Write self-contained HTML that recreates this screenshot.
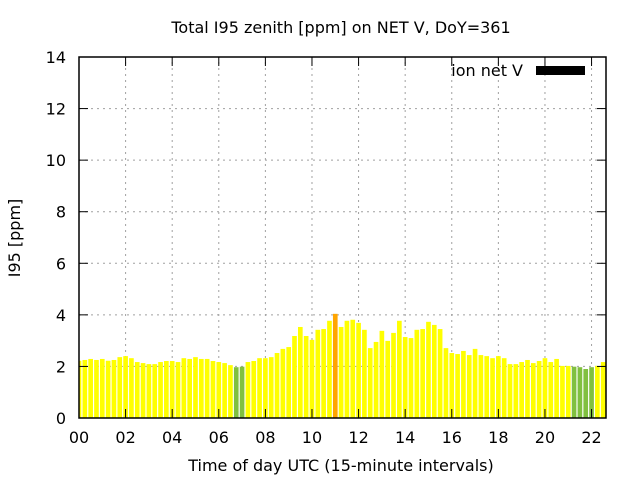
<!DOCTYPE html>
<html><head><meta charset="utf-8"><style>
body{margin:0;background:#fff}
svg{display:block;font-family:"DejaVu Sans","Liberation Sans",sans-serif}
</style></head><body>
<svg id="chart" width="640" height="480" viewBox="0 0 640 480">
<rect width="640" height="480" fill="#fff"/>
<text x="341" y="33" font-size="16" text-anchor="middle">Total I95 zenith [ppm] on NET V, DoY=361</text>
<text transform="translate(20,238) rotate(-90)" font-size="16" text-anchor="middle">I95 [ppm]</text>
<text x="341" y="471" font-size="16" text-anchor="middle">Time of day UTC (15-minute intervals)</text>
<g id="grid"></g>
<defs><clipPath id="plotclip"><rect x="79" y="57" width="527" height="361"/></clipPath></defs>
<g id="bars" clip-path="url(#plotclip)"></g>
<g id="axes"></g>
<text x="523" y="76" font-size="16" text-anchor="end">ion net V</text>
<rect x="536" y="66" width="49" height="9" fill="#000"/>
</svg>
<script>
const values = [2.22,2.25,2.29,2.25,2.29,2.22,2.25,2.36,2.40,2.32,2.17,2.13,2.09,2.09,2.17,2.21,2.21,2.17,2.32,2.29,2.36,2.29,2.29,2.21,2.17,2.13,2.05,1.97,1.99,2.17,2.21,2.32,2.32,2.36,2.52,2.68,2.75,3.18,3.53,3.18,3.03,3.42,3.45,3.77,4.04,3.53,3.77,3.81,3.69,3.42,2.71,2.95,3.38,2.99,3.30,3.77,3.14,3.10,3.42,3.45,3.73,3.61,3.45,2.71,2.52,2.48,2.60,2.44,2.68,2.44,2.40,2.32,2.40,2.32,2.09,2.09,2.17,2.25,2.13,2.21,2.32,2.17,2.29,2.02,2.02,1.99,1.97,1.90,1.97,2.02,2.17,2.02];
const yTicks = [0,2,4,6,8,10,12,14];
const xTicks = [0,2,4,6,8,10,12,14,16,18,20,22];
const xTickLabels = ["00","02","04","06","08","10","12","14","16","18","20","22"];
const X0=79,X1=606,Y0=418,Y1=57,TMAX=22.62,VMAX=14;
const xs=t=>X0+(t/TMAX)*(X1-X0);
const ys=v=>Y0-(v/VMAX)*(Y0-Y1);
const NS="http://www.w3.org/2000/svg";
function mk(tag,attrs,parent){const e=document.createElementNS(NS,tag);for(const k in attrs)e.setAttribute(k,attrs[k]);parent.appendChild(e);return e;}
const grid=document.getElementById('grid'),bars=document.getElementById('bars'),axes=document.getElementById('axes');
yTicks.forEach(v=>{
  if(v>0&&v<14){const l=mk('line',{x1:X0,x2:X1,y1:ys(v),y2:ys(v),stroke:'#a0a0a0','stroke-dasharray':'2,4'},grid);
  
  }
  mk('line',{x1:X0,x2:X0+9,y1:ys(v),y2:ys(v),stroke:'#000'},axes);
  mk('line',{x1:X1,x2:X1-9,y1:ys(v),y2:ys(v),stroke:'#000'},axes);
  const t=mk('text',{x:X0-13,y:ys(v)+6,'font-size':'16','text-anchor':'end'},axes);t.textContent=v;
  
  
});
xTicks.forEach((h,i)=>{
  const x=xs(h);
  if(h>0){const l=mk('line',{x1:x,x2:x,y1:Y0,y2:Y1,stroke:'#a0a0a0','stroke-dasharray':'2,4'},grid);
  
  }
  mk('line',{x1:x,x2:x,y1:Y0,y2:Y0-9,stroke:'#000'},axes);
  mk('line',{x1:x,x2:x,y1:Y1,y2:Y1+9,stroke:'#000'},axes);
  const t=mk('text',{x:x,y:Y0+25,'font-size':'16','text-anchor':'middle'},axes);t.textContent=xTickLabels[i];
  
  
});
const bw=(0.2/TMAX)*(X1-X0);
values.forEach((v,i)=>{
  const c=xs(i*0.25);
  const col=v>=4?'#ffa500':(v<2?'#80c040':'#ffff00');
  const r=mk('rect',{x:c-bw/2,y:ys(v),width:bw,height:Y0-ys(v),fill:col},bars);
  
  
});
const fr=mk('rect',{x:X0,y:Y1,width:X1-X0,height:Y0-Y1,fill:'none',stroke:'#000','stroke-width':1.5},axes);


</script>
</body></html>
